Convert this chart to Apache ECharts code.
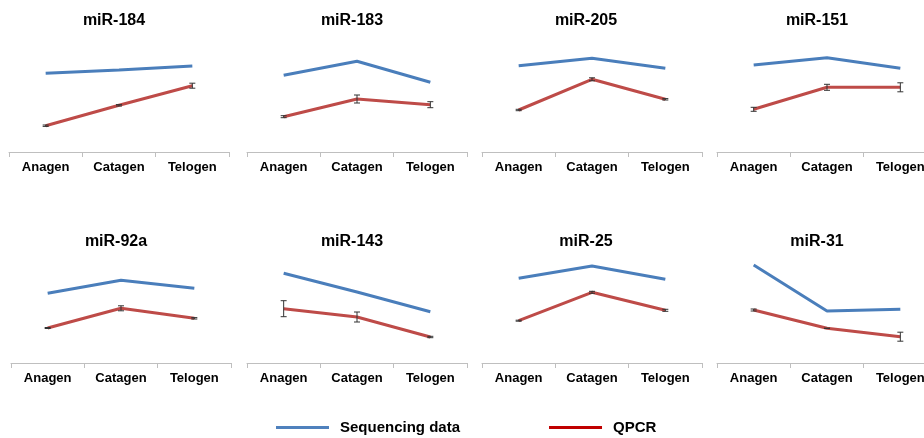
<!DOCTYPE html>
<html>
<head>
<meta charset="utf-8">
<script src="https://cdn.jsdelivr.net/npm/echarts@6/dist/echarts.min.js"></script>
<style>
html,body{margin:0;padding:0;background:#fff;overflow:hidden;width:924px;height:438px;}
#c{width:944px;height:438px;}
</style>
</head>
<body>
<div id="c"></div>
<script>
const categories = ['Anagen', 'Catagen', 'Telogen'];
const panelNames = ['miR-184', 'miR-183', 'miR-205', 'miR-151', 'miR-92a', 'miR-143', 'miR-25', 'miR-31'];
// Sequencing data (relative units)
const seqData = [
  [78.7, 82, 86],
  [76.7, 90.7, 69.7],
  [86.3, 93.7, 83.7],
  [87, 94.3, 83.7],
  [69.7, 82.7, 74.7],
  [89.7, 71, 51.3],
  [84.7, 97, 83.7],
  [98, 52, 53.7]
];
// QPCR (relative units)
const qpcrData = [
  [26.3, 46.7, 66.3],
  [35.3, 53, 47.3],
  [42, 72.7, 52.7],
  [42.7, 64.7, 64.7],
  [35, 54.7, 44.7],
  [54.3, 46, 26],
  [42.3, 70.7, 52.7],
  [53, 34.7, 26.3]
];
// QPCR error (half-width)
const qpcrErr = [
  [0.7, 0.7, 2.5],
  [1, 4, 3],
  [0.7, 1.5, 0.7],
  [2, 3, 4.5],
  [0.5, 2.5, 0.7],
  [8, 5, 0.7],
  [0.5, 1, 1],
  [1, 0, 4.5]
];
const legendNames = ['Sequencing data', 'QPCR'];

// layout (not data)
const gridLeftsTop = [9, 247, 482, 717];
const gridLeftsBottom = [11, 247, 482, 717];
const titleOffsets = [-10, -10, -11, -15];
const gridWidth = 220;
const rowTops = [52, 263];
const FONT = '"Liberation Sans", Arial, sans-serif';
const BLUE = '#4A7EBB';
const RED = '#BE4B48';

const grids = [], xAxes = [], yAxes = [], series = [], titles = [];
panelNames.forEach((name, i) => {
  const row = Math.floor(i / 4), col = i % 4;
  const left = row === 0 ? gridLeftsTop[col] : gridLeftsBottom[col];
  grids.push({left: left, top: rowTops[row], width: gridWidth, height: 100, containLabel: false});
  xAxes.push({
    type: 'category', gridIndex: i, data: categories, boundaryGap: true,
    axisLine: {show: true, lineStyle: {color: '#BFBFBF', width: 1}},
    axisTick: {show: true, length: 5, inside: false, lineStyle: {color: '#BFBFBF'}},
    axisLabel: {color: '#000', fontFamily: FONT, fontWeight: 'bold', fontSize: 13, margin: 9, interval: 0, hideOverlap: false},
    splitLine: {show: false}
  });
  yAxes.push({type: 'value', gridIndex: i, min: 0, max: 100, show: false, splitLine: {show: false}});
  titles.push({
    text: name, left: left + gridWidth / 2 + titleOffsets[col], top: row === 0 ? 8 : 229, textAlign: 'center',
    textStyle: {fontFamily: FONT, fontWeight: 'bold', fontSize: 16, color: '#000'}
  });
  series.push({
    name: legendNames[0], type: 'line', xAxisIndex: i, yAxisIndex: i, data: seqData[i],
    showSymbol: false, symbol: 'none', lineStyle: {color: BLUE, width: 3}, itemStyle: {color: BLUE},
    silent: true, animation: false
  });
  series.push({
    name: legendNames[1], type: 'line', xAxisIndex: i, yAxisIndex: i, data: qpcrData[i],
    showSymbol: false, symbol: 'none', lineStyle: {color: RED, width: 3}, itemStyle: {color: RED},
    silent: true, animation: false, z: 3
  });
  series.push({
    type: 'custom', xAxisIndex: i, yAxisIndex: i, z: 4, silent: true, animation: false,
    data: qpcrData[i].map((v, k) => [k, v - qpcrErr[i][k], v + qpcrErr[i][k]]),
    encode: {x: 0, y: [1, 2]},
    renderItem: function (params, api) {
      const x = api.value(0);
      const lo = api.coord([x, api.value(1)]);
      const hi = api.coord([x, api.value(2)]);
      const w = 3;
      const st = {stroke: '#333', lineWidth: 1};
      return {type: 'group', children: [
        {type: 'line', shape: {x1: lo[0], y1: lo[1], x2: hi[0], y2: hi[1]}, style: st},
        {type: 'line', shape: {x1: lo[0] - w, y1: lo[1], x2: lo[0] + w, y2: lo[1]}, style: st},
        {type: 'line', shape: {x1: hi[0] - w, y1: hi[1], x2: hi[0] + w, y2: hi[1]}, style: st}
      ]};
    }
  });
});

const chart = echarts.init(document.getElementById('c'), null, {renderer: 'canvas'});
chart.setOption({
  backgroundColor: '#fff',
  animation: false,
  title: titles,
  grid: grids,
  xAxis: xAxes,
  yAxis: yAxes,
  legend: {
    left: 271, top: 415, itemWidth: 53, itemHeight: 3, itemGap: 89, icon: 'rect',
    selectedMode: false,
    data: [
      {name: legendNames[0], itemStyle: {color: '#4F81BD'}},
      {name: legendNames[1], itemStyle: {color: '#C00000'}}
    ],
    textStyle: {fontFamily: FONT, fontWeight: 'bold', fontSize: 15, color: '#000', padding: [0, 0, 0, 6]}
  },
  series: series
});
</script>
</body>
</html>
